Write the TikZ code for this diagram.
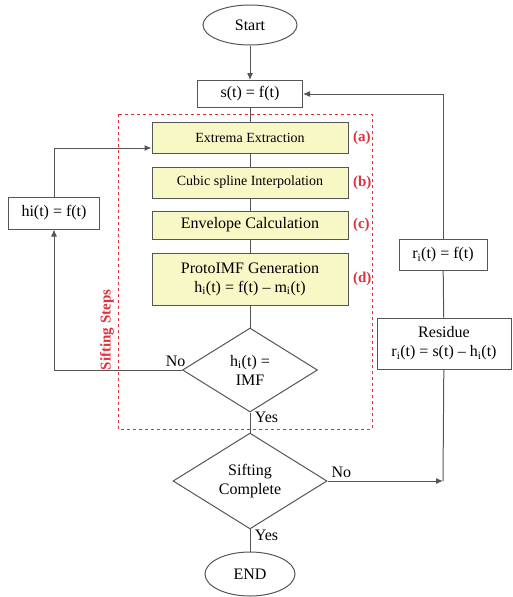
\documentclass[tikz,border=0pt]{standalone}
\usepackage{fontspec}
\setmainfont{Liberation Serif}
\usetikzlibrary{shapes.geometric,arrows.meta}
\definecolor{stepfill}{HTML}{F8F8C6}
\definecolor{stepred}{HTML}{E0323C}
\definecolor{flowline}{HTML}{555555}
\tikzset{
	term/.style={ellipse,draw=flowline,line width=1pt,minimum width=94pt,minimum height=40pt,inner sep=0pt},
	plainbox/.style={rectangle,draw=flowline,line width=1pt,inner sep=0pt,align=center},
	stepbox/.style={plainbox,fill=stepfill,minimum width=196pt},
	decide/.style={diamond,draw=flowline,line width=1pt,inner sep=0pt,align=center},
	steplbl/.style={text=stepred,font=\fontsize{15}{17}\selectfont\bfseries,anchor=west},
	flow/.style={draw=flowline,line width=1pt},
	flowarrow/.style={flow,-{Latex[length=7pt,width=6pt]}}
}
\begin{document}
\begin{tikzpicture}[x=1pt,y=-1pt,font=\fontsize{16}{19}\selectfont]
		\useasboundingbox (0,0) rectangle (513,597);
		% main column
		\node[term] (start) at (250,25) {Start};
		\node[plainbox,minimum width=105pt,minimum height=27pt] (sbox) at (250,94) {s(t) = f(t)};
		\node[stepbox,minimum height=31pt,font=\fontsize{14}{16}\selectfont] (extr) at (250,138) {Extrema Extraction};
		\node[stepbox,minimum height=31pt,font=\fontsize{14}{16}\selectfont] (spline) at (250,182.5) {Cubic spline Interpolation};
		\node[stepbox,minimum height=28pt] (envel) at (250,225) {Envelope Calculation};
		\node[stepbox,minimum height=52pt] (proto) at (250,279) {ProtoIMF Generation\\h\textsubscript{i}(t) = f(t) -- m\textsubscript{i}(t)};
		\node[decide,minimum width=135pt,minimum height=84pt] (isimf) at (250,370) {h\textsubscript{i}(t) =\\IMF};
		\node[decide,minimum width=154pt,minimum height=88pt] (done) at (250,481) {Sifting\\Complete};
		\node[term,minimum width=90pt,minimum height=44pt] (finish) at (250,574) {END};
		
		% step labels
		\node[steplbl] at ([xshift=1pt]extr.east) {(a)};
		\node[steplbl] at ([xshift=1pt]spline.east) {(b)};
		\node[steplbl] at ([xshift=1pt]envel.east) {(c)};
		\node[steplbl] at ([xshift=1pt]proto.east) {(d)};
		
		% side boxes
		\node[plainbox,minimum width=91pt,minimum height=32pt] (hibox) at (54,213) {hi(t) = f(t)};
		\node[plainbox,minimum width=88pt,minimum height=31pt] (rbox) at (443,254.5) {r\textsubscript{i}(t) = f(t)};
		\node[plainbox,minimum width=134pt,minimum height=51pt] (resid) at (444,343.5) {Residue\\r\textsubscript{i}(t) = s(t) -- h\textsubscript{i}(t)};
		\coordinate (turn) at (443,481);
		
		% sifting frame
		\draw[stepred,dashed,line width=.9pt] (118,114) rectangle (372,429);
		\node[rotate=90,text=stepred,font=\fontsize{15}{17}\selectfont\bfseries] (sift) at (107,330) {Sifting Steps};
		
		% connectors
		\draw[flowarrow] (start) -- (sbox);
		\draw[flow] (sbox) -- (extr); \draw[flow] (extr) -- (spline);
		\draw[flow] (spline) -- (envel); \draw[flow] (envel) -- (proto);
		\draw[flow] (proto) -- (isimf);
		\draw[flow] (isimf) -- node[near start,anchor=west,xshift=1pt] {Yes} (done);
		\draw[flow] (done) -- node[near start,anchor=west,xshift=1pt] {Yes} (finish);
		\draw[flowarrow] (isimf.west) -- node[pos=.05,above] {No} (isimf.west -| hibox) -- (hibox);
		\draw[flowarrow] (hibox) |- ([yshift=-10pt]extr.west);
		\draw[flowarrow] (done.east) -- node[pos=.12,above] {No} (turn);
		\draw[flow] (turn) -- (resid); \draw[flow] (resid) -- (rbox);
		\draw[flowarrow] (rbox) |- (sbox);
		\end{tikzpicture}
\end{document}
